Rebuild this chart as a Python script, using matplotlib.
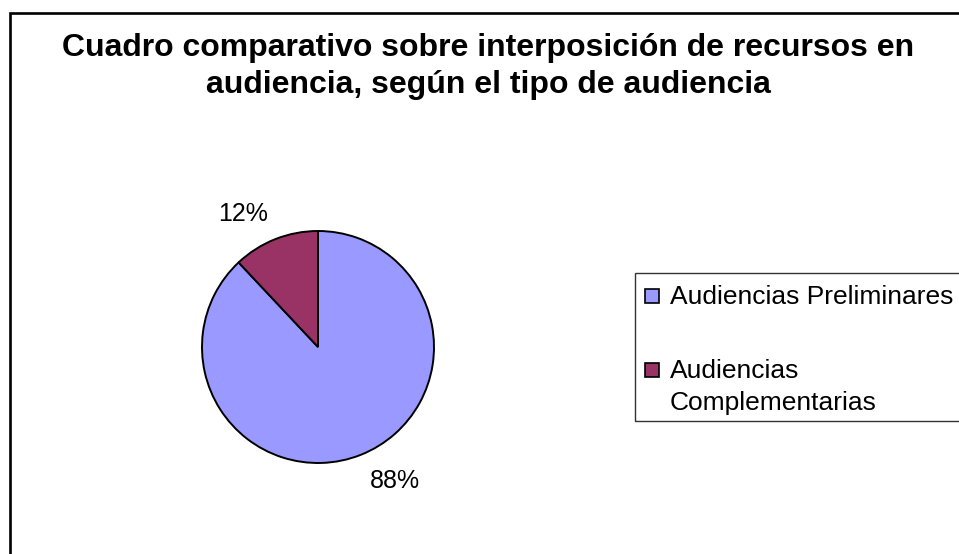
import textwrap
import matplotlib
matplotlib.use("Agg")
import matplotlib.pyplot as plt
from matplotlib.patches import Rectangle

plt.rcParams['font.family'] = ['Liberation Sans', 'DejaVu Sans']

# datos
categorias = ["Audiencias Preliminares", "Audiencias Complementarias"]
porcentajes = [88, 12]
colores = ["#9999FF", "#993366"]
titulo = ["Cuadro comparativo sobre interposición de recursos en",
          "audiencia, según el tipo de audiencia"]

W, H = 959, 554
fig = plt.figure(figsize=(W / 100, H / 100), dpi=100)

def fx(px):
    return px / W

def fy(py):
    return 1 - py / H

# marco exterior del grafico (se sale por la derecha y por abajo)
fig.patches.append(Rectangle((fx(10), -0.1), 1.2, fy(13) + 0.1, fill=False,
                             lw=1.9, ec="black", transform=fig.transFigure))

for i, linea in enumerate(titulo):
    fig.text(fx(488), fy(56 + 37 * i), linea, ha="center", va="baseline",
             fontsize=23, fontweight="bold")

# pastel
cx, cy, r = 318, 347, 116
ax = fig.add_axes([fx(cx - r), fy(cy + r), (2 * r) / W, (2 * r) / H])
wedges, textos, pcts = ax.pie(porcentajes, colors=colores, startangle=90, counterclock=False,
                              autopct="%1.0f%%", labels=None,
                              wedgeprops=dict(edgecolor="black", linewidth=1.4))
ax.set_xlim(-1, 1)
ax.set_ylim(-1, 1)
# posicion de las etiquetas como en excel
pos_etiquetas = [(0.664, -1.155), (-0.647, 1.147)]
for t, p in zip(pcts, pos_etiquetas):
    t.set_position(p)
    t.set_fontsize(18)
    t.set_ha("center")
    t.set_va("center")
    t.set_clip_on(False)

# leyenda hecha a mano (el texto largo va en dos lineas)
fig.patches.append(Rectangle((fx(635), fy(421)), 1.0, fy(273) - fy(421), fill=False,
                             lw=1.0, ec="#333333", transform=fig.transFigure))
filas = [304, 378]
for cat, col, yb in zip(categorias, colores, filas):
    fig.patches.append(Rectangle((fx(645), fy(yb - 1)), fx(14), 14 / H, fc=col,
                                 ec="black", lw=1.2, transform=fig.transFigure))
    for i, linea in enumerate(textwrap.wrap(cat, 24)):
        fig.text(fx(670), fy(yb + 32 * i), linea, ha="left", va="baseline", fontsize=19)

plt.savefig("out.png", dpi=100)
